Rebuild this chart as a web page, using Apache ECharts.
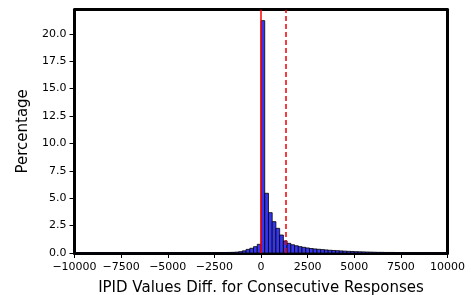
<!DOCTYPE html>
<html>
<head>
<meta charset="utf-8">
<script src="https://cdn.jsdelivr.net/npm/echarts@6/dist/echarts.min.js"></script>
<style>
  html, body { margin: 0; padding: 0; background: #fff; }
  #main { width: 471px; height: 295px; }
</style>
</head>
<body>
<div id="main"></div>
<script>
// histogram bins: 100 bins of width 200 from -10000 to 10000
var binStart = -10000;
var binWidth = 200;
var percentages = [
  0.02, 0.02, 0.02, 0.02, 0.02, 0.02, 0.02, 0.02, 0.02, 0.02,
  0.02, 0.02, 0.02, 0.02, 0.02, 0.02, 0.02, 0.02, 0.02, 0.02,
  0.02, 0.02, 0.02, 0.02, 0.02, 0.02, 0.02, 0.02, 0.02, 0.02,
  0.03, 0.03, 0.03, 0.03, 0.03, 0.03, 0.03, 0.03, 0.04, 0.04,
  0.04, 0.05, 0.06, 0.08, 0.12, 0.20, 0.33, 0.43, 0.58, 0.79,
  21.2, 5.45, 3.68, 2.86, 2.25, 1.64, 1.10, 0.88, 0.75, 0.66,
  0.58, 0.52, 0.46, 0.41, 0.37, 0.34, 0.31, 0.28, 0.25, 0.23,
  0.21, 0.19, 0.17, 0.15, 0.14, 0.12, 0.11, 0.10, 0.09, 0.08,
  0.07, 0.06, 0.06, 0.05, 0.05, 0.05, 0.04, 0.04, 0.04, 0.04,
  0.04, 0.03, 0.03, 0.03, 0.03, 0.03, 0.03, 0.03, 0.03, 0.03
];
var zeroLine = 0;
var meanLine = 1320;
var xTicks = [-10000, 10000, 2500];
var yMax = 22.2;
var yTickValues = [0, 2.5, 5, 7.5, 10, 12.5, 15, 17.5, 20];

var histData = percentages.map(function (v, i) {
  var a = binStart + i * binWidth;
  return [a, a + binWidth, v];
});

var font = 'DejaVu Sans';
var myChart = echarts.init(document.getElementById('main'));

var option = {
  animation: false,
  backgroundColor: '#fff',
  grid: { left: 74.5, right: 23.5, top: 9.7, bottom: 42, containLabel: false, outerBoundsMode: 'none' },
  xAxis: [{
    type: 'value',
    min: xTicks[0], max: xTicks[1], interval: xTicks[2],
    name: 'IPID Values Diff. for Consecutive Responses',
    nameLocation: 'middle', nameGap: 28,
    nameTextStyle: { fontFamily: font, fontSize: 15, color: '#000' },
    axisLine: { onZero: false, lineStyle: { color: '#000', width: 3 } },
    axisTick: { length: 5, lineStyle: { color: '#000', width: 1 } },
    axisLabel: {
      fontFamily: font, fontSize: 11, color: '#000', margin: 9,
      formatter: function (v) { return v < 0 ? '\u2212' + (-v) : String(v); }
    },
    splitLine: { show: false }
  }, {
    type: 'value', position: 'top',
    min: xTicks[0], max: xTicks[1],
    axisLine: { show: true, onZero: false, lineStyle: { color: '#000', width: 3 } },
    axisTick: { show: false }, axisLabel: { show: false }, splitLine: { show: false }
  }],
  yAxis: [{
    type: 'value',
    min: 0, max: yMax,
    name: 'Percentage',
    nameLocation: 'middle', nameGap: 33,
    nameTextStyle: { fontFamily: font, fontSize: 15, color: '#000' },
    axisLine: { show: true, onZero: false, lineStyle: { color: '#000', width: 3 } },
    axisTick: { show: true, length: 5, customValues: yTickValues, lineStyle: { color: '#000', width: 1 } },
    axisLabel: {
      fontFamily: font, fontSize: 11, color: '#000', margin: 8,
      customValues: yTickValues,
      formatter: function (v) { return v.toFixed(1); }
    },
    splitLine: { show: false }
  }, {
    type: 'value', position: 'right',
    min: 0, max: yMax,
    axisLine: { show: true, onZero: false, lineStyle: { color: '#000', width: 3 } },
    axisTick: { show: false }, axisLabel: { show: false }, splitLine: { show: false }
  }],
  series: [{
    type: 'custom',
    xAxisIndex: 0, yAxisIndex: 0,
    data: histData,
    encode: { x: [0, 1], y: 2 },
    renderItem: function (params, api) {
      var p0 = api.coord([api.value(0), api.value(2)]);
      var p1 = api.coord([api.value(1), 0]);
      return {
        type: 'rect',
        shape: { x: p0[0], y: p0[1], width: p1[0] - p0[0], height: p1[1] - p0[1] },
        style: { fill: '#3636f2', stroke: '#000', lineWidth: 0.8 }
      };
    },
    markLine: {
      symbol: 'none', silent: true, label: { show: false },
      data: [
        { xAxis: zeroLine, lineStyle: { color: '#ff0000', width: 1.5, type: 'solid', opacity: 1 } },
        { xAxis: meanLine, lineStyle: { color: '#ee0000', width: 1.5, type: [5, 3], opacity: 1 } }
      ]
    }
  }]
};

myChart.setOption(option);
</script>
</body>
</html>
